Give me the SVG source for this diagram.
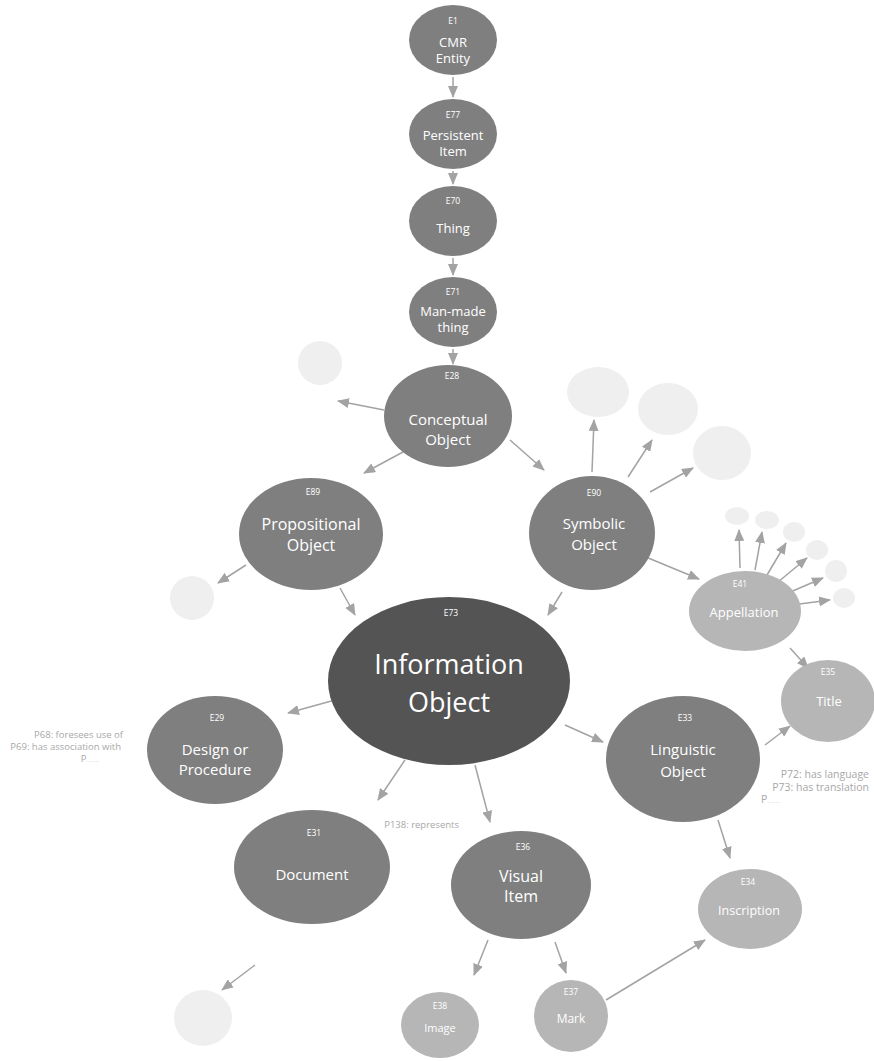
<svg xmlns="http://www.w3.org/2000/svg" width="874" height="1061" viewBox="0 0 874 1061">
<style>
.mid{fill:#7f7f7f}
.dark{fill:#545454}
.light{fill:#b6b6b6}
.ghost{fill:#efefef}
text{font-family:"Open Sans","Liberation Sans",sans-serif;fill:#ffffff;text-anchor:middle}
.code{font-size:8.5px}
.lbl{font-size:13px}
.big{font-size:15px}
.huge{font-size:27px}
.ann{font-size:9.5px;fill:#a8a8a8;text-anchor:end}
.annr{font-size:10.5px;fill:#a8a8a8;text-anchor:end}
.conn line{stroke:#a3a3a3;stroke-width:1.5;marker-end:url(#ah)}
</style>
<defs>
<marker id="ah" markerUnits="userSpaceOnUse" markerWidth="12" markerHeight="10" refX="11" refY="5" orient="auto">
<path d="M0,0 L12,5 L0,10 Z" fill="#a3a3a3"/>
</marker>
</defs>
<rect width="874" height="1061" fill="#ffffff"/>

<g id="connectors" class="conn">
<line x1="453" y1="77" x2="453" y2="97"/>
<line x1="453" y1="171" x2="453" y2="184"/>
<line x1="453" y1="258" x2="453" y2="275"/>
<line x1="453" y1="349" x2="453" y2="364"/>
<line x1="384" y1="410" x2="338" y2="401"/>
<line x1="403" y1="452" x2="364" y2="473"/>
<line x1="510" y1="440" x2="544" y2="470"/>
<line x1="340" y1="588" x2="355" y2="615"/>
<line x1="562" y1="592" x2="548" y2="615"/>
<line x1="592" y1="472" x2="594" y2="420"/>
<line x1="628" y1="477" x2="652" y2="440"/>
<line x1="650" y1="492" x2="693" y2="468"/>
<line x1="641" y1="555" x2="699" y2="579"/>
<line x1="740" y1="568" x2="739" y2="530"/>
<line x1="755" y1="570" x2="762" y2="532"/>
<line x1="767" y1="575" x2="786" y2="543"/>
<line x1="778" y1="582" x2="807" y2="558"/>
<line x1="788" y1="593" x2="823" y2="578"/>
<line x1="792" y1="605" x2="830" y2="600"/>
<line x1="790" y1="648" x2="808" y2="668"/>
<line x1="246" y1="565" x2="218" y2="583"/>
<line x1="335" y1="700" x2="288" y2="713"/>
<line x1="565" y1="725" x2="603" y2="742"/>
<line x1="405" y1="760" x2="378" y2="800"/>
<line x1="475" y1="765" x2="490" y2="822"/>
<line x1="765" y1="745" x2="790" y2="726"/>
<line x1="718" y1="820" x2="730" y2="858"/>
<line x1="488" y1="940" x2="474" y2="975"/>
<line x1="555" y1="942" x2="566" y2="973"/>
<line x1="606" y1="1000" x2="705" y2="940"/>
<line x1="255" y1="965" x2="222" y2="990"/>
</g>

<g id="E1"><ellipse class="mid" cx="453" cy="40" rx="44" ry="35"/>
<text class="code" x="453" y="24">E1</text><text class="lbl" x="453" y="47">CMR</text><text class="lbl" x="453" y="63">Entity</text></g>
<g id="E77"><ellipse class="mid" cx="453" cy="134" rx="44" ry="35"/>
<text class="code" x="453" y="118">E77</text><text class="lbl" x="453" y="140">Persistent</text><text class="lbl" x="453" y="156">Item</text></g>
<g id="E70"><ellipse class="mid" cx="453" cy="221" rx="44" ry="35"/>
<text class="code" x="453" y="204">E70</text><text class="lbl" x="453" y="233">Thing</text></g>
<g id="E71"><ellipse class="mid" cx="453" cy="312" rx="44" ry="35"/>
<text class="code" x="453" y="295">E71</text><text class="lbl" x="453" y="316">Man-made</text><text class="lbl" x="453" y="332">thing</text></g>

<g id="E28"><ellipse class="mid" cx="448" cy="416" rx="64" ry="51"/>
<text class="code" x="452" y="379">E28</text><text class="big" x="448" y="425">Conceptual</text><text class="big" x="448" y="445">Object</text></g>
<g id="ghost-e28"><ellipse class="ghost" cx="320" cy="363" rx="22" ry="22"/></g>

<g id="E89"><ellipse class="mid" cx="311" cy="534" rx="72" ry="56"/>
<text class="code" x="313" y="495">E89</text><text class="big" x="311" y="530" style="font-size:16px">Propositional</text><text class="big" x="311" y="551" style="font-size:16px">Object</text></g>
<g id="ghost-e89"><ellipse class="ghost" cx="192" cy="598" rx="22" ry="22"/></g>

<g id="E90"><ellipse class="mid" cx="592" cy="533" rx="63" ry="57"/>
<text class="code" x="594" y="496">E90</text><text class="big" x="594" y="529">Symbolic</text><text class="big" x="594" y="550">Object</text></g>
<g id="ghost-e90-1"><ellipse class="ghost" cx="598" cy="392" rx="31" ry="25"/></g>
<g id="ghost-e90-2"><ellipse class="ghost" cx="668" cy="409" rx="30" ry="26"/></g>
<g id="ghost-e90-3"><ellipse class="ghost" cx="722" cy="453" rx="29" ry="27"/></g>

<g id="E41"><ellipse class="light" cx="745" cy="611" rx="56" ry="40"/>
<text class="code" x="740" y="587">E41</text><text class="lbl" x="744" y="617">Appellation</text></g>
<g id="ghost-e41-1"><ellipse class="ghost" cx="737" cy="516" rx="12" ry="9"/></g>
<g id="ghost-e41-2"><ellipse class="ghost" cx="767" cy="520" rx="12" ry="9"/></g>
<g id="ghost-e41-3"><ellipse class="ghost" cx="794" cy="532" rx="11" ry="10"/></g>
<g id="ghost-e41-4"><ellipse class="ghost" cx="817" cy="550" rx="11" ry="10"/></g>
<g id="ghost-e41-5"><ellipse class="ghost" cx="836" cy="571" rx="11" ry="11"/></g>
<g id="ghost-e41-6"><ellipse class="ghost" cx="844" cy="598" rx="11" ry="10"/></g>

<g id="E35"><ellipse class="light" cx="828" cy="701" rx="47" ry="41"/>
<text class="code" x="828" y="675">E35</text><text class="lbl" x="829" y="706">Title</text></g>

<g id="E73"><ellipse class="dark" cx="449" cy="681" rx="121" ry="84"/>
<text class="code" x="451" y="616">E73</text><text class="huge" x="449" y="674">Information</text><text class="huge" x="449" y="712">Object</text></g>

<g id="E29"><ellipse class="mid" cx="215" cy="750" rx="68" ry="54"/>
<text class="code" x="217" y="721">E29</text><text class="big" x="215" y="755">Design or</text><text class="big" x="215" y="775">Procedure</text></g>

<g id="E33"><ellipse class="mid" cx="683" cy="759" rx="77" ry="63"/>
<text class="code" x="685" y="721">E33</text><text class="big" x="683" y="755">Linguistic</text><text class="big" x="683" y="777">Object</text></g>

<g id="E31"><ellipse class="mid" cx="312" cy="867" rx="78" ry="57"/>
<text class="code" x="314" y="836">E31</text><text class="big" x="312" y="880">Document</text></g>
<g id="ghost-e31"><ellipse class="ghost" cx="203" cy="1018" rx="29" ry="28"/></g>

<g id="E36"><ellipse class="mid" cx="521" cy="885" rx="70" ry="54"/>
<text class="code" x="523" y="850">E36</text><text class="big" x="521" y="882" style="font-size:16px">Visual</text><text class="big" x="521" y="902" style="font-size:16px">Item</text></g>

<g id="E34"><ellipse class="light" cx="750" cy="909" rx="52" ry="40"/>
<text class="code" x="748" y="885">E34</text><text class="lbl" x="749" y="915" style="font-size:12.5px">Inscription</text></g>

<g id="E38"><ellipse class="light" cx="440" cy="1025" rx="39" ry="33"/>
<text class="code" x="440" y="1009">E38</text><text class="lbl" x="440" y="1032" style="font-size:11px">Image</text></g>

<g id="E37"><ellipse class="light" cx="571" cy="1016" rx="37" ry="36"/>
<text class="code" x="571" y="995">E37</text><text class="lbl" x="571" y="1023" style="font-size:12px">Mark</text></g>

<g id="annotations">
<text class="ann" x="123" y="738">P68: foresees use of</text>
<text class="ann" x="121" y="750">P69: has association with</text>
<text class="ann" x="99" y="762">P<tspan style="font-size:4px">... ... ....</tspan></text>
<text class="annr" x="869" y="778">P72: has language</text>
<text class="annr" x="869" y="790.5">P73: has translation</text>
<text class="annr" x="780" y="803">P<tspan style="font-size:4px">... ... ....</tspan></text>
<text class="ann" x="459" y="828">P138: represents</text>
</g>
</svg>
